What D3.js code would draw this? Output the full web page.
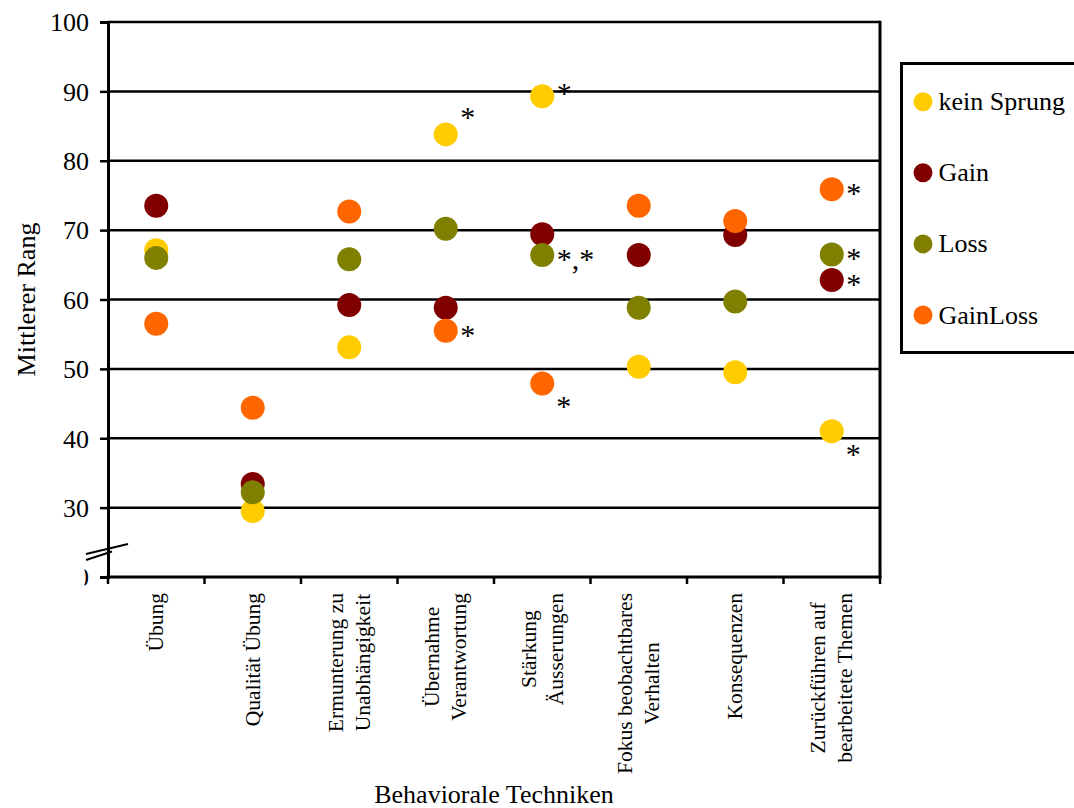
<!DOCTYPE html>
<html>
<head>
<meta charset="utf-8">
<script src="https://cdn.jsdelivr.net/npm/d3@7"></script>
<style>
  html, body { margin: 0; padding: 0; background: #fff; }
  svg { display: block; }
  text { font-family: "Liberation Serif", "Times New Roman", serif; fill: #000; }
</style>
</head>
<body>
<svg id="chart" width="1074" height="808"></svg>
<script>
// Behavioural techniques (line breaks marked with "|")
const categories = [
  "Übung",
  "Qualität Übung",
  "Ermunterung zu|Unabhängigkeit",
  "Übernahme|Verantwortung",
  "Stärkung|Äusserungen",
  "Fokus beobachtbares|Verhalten",
  "Konsequenzen",
  "Zurückführen auf|bearbeitete Themen"
];

const seriesNames = ["kein Sprung", "Gain", "Loss", "GainLoss"];
const seriesColors = ["#FFCC00", "#800000", "#808000", "#FF6600"];

// Mean ranks per group
const keinSprung = [67.1, 29.5, 53.1, 83.8, 89.3, 50.3, 49.5, 41.0];
const gain       = [73.5, 33.4, 59.2, 58.8, 69.4, 66.4, 69.3, 62.8];
const loss       = [66.0, 32.2, 65.8, 70.2, 66.4, 58.8, 59.7, 66.5];
const gainLoss   = [56.5, 44.4, 72.7, 55.5, 47.9, 73.5, 71.3, 75.9];

const yTicks = [20, 30, 40, 50, 60, 70, 80, 90, 100];
const gridTicks = [30, 40, 50, 60, 70, 80, 90, 100];

// Significance markers: [category index, series, marker text, placement]
const sigCategory = [3, 3, 4, 4, 4, 7, 7, 7, 7];
const sigSeries   = ["kein Sprung", "GainLoss", "kein Sprung", "Loss", "GainLoss", "GainLoss", "Loss", "Gain", "kein Sprung"];
const sigText     = ["*", "*", "*", "*,*", "*", "*", "*", "*", "*"];
const sigPlace    = ["upper", "right", "raised", "right", "lower", "right", "right", "right", "lower"];

const values = [keinSprung, gain, loss, gainLoss];

const svg = d3.select("#chart");
const plot = { left: 108, right: 880, top: 22, bottom: 577 };

const x = d3.scaleBand().domain(categories).range([plot.left, plot.right]).padding(0);
const y = d3.scaleLinear().domain([20, 100]).range([plot.bottom, plot.top]);
const cx = c => x(c) + x.bandwidth() / 2;

// Horizontal gridlines
svg.append("g").selectAll("line").data(gridTicks).join("line")
  .attr("x1", plot.left).attr("x2", plot.right)
  .attr("y1", d => y(d)).attr("y2", d => y(d))
  .attr("stroke", "#000").attr("stroke-width", 2.5);

// Right border of the plot area
svg.append("line")
  .attr("x1", plot.right).attr("x2", plot.right)
  .attr("y1", plot.top - 1.25).attr("y2", plot.bottom)
  .attr("stroke", "#000").attr("stroke-width", 3);

// Y axis
const yAxis = svg.append("g")
  .attr("transform", `translate(${plot.left},0)`)
  .call(d3.axisLeft(y).tickValues(yTicks).tickSize(8).tickPadding(11).tickFormat(d3.format("d")));
yAxis.select(".domain").attr("stroke", "#000").attr("stroke-width", 3);
yAxis.selectAll(".tick line").attr("stroke", "#000").attr("stroke-width", 2.5);
yAxis.selectAll(".tick text")
  .attr("font-size", 26)
  .attr("font-family", '"Liberation Serif", "Times New Roman", serif')
  .attr("dy", "0.34em");

// Axis break: white cover over the lowest label, then the two slanted strokes
svg.append("rect").attr("x", 30).attr("y", 556).attr("width", 54.5).attr("height", 40).attr("fill", "#fff");
svg.append("line").attr("x1", 86).attr("y1", 554).attr("x2", 128).attr("y2", 544)
  .attr("stroke", "#000").attr("stroke-width", 2);
svg.append("line").attr("x1", 86).attr("y1", 560).attr("x2", 112).attr("y2", 551.5)
  .attr("stroke", "#000").attr("stroke-width", 2);

// X axis line with ticks on the category boundaries
svg.append("line")
  .attr("x1", plot.left - 1.5).attr("x2", plot.right + 1.5)
  .attr("y1", plot.bottom).attr("y2", plot.bottom)
  .attr("stroke", "#000").attr("stroke-width", 3);
const bounds = categories.map(c => x(c)).concat([x.range()[1]]);
svg.append("g").selectAll("line").data(bounds).join("line")
  .attr("x1", d => d).attr("x2", d => d)
  .attr("y1", plot.bottom).attr("y2", plot.bottom + 7)
  .attr("stroke", "#000").attr("stroke-width", 2.5);

// Category labels, rotated, multi-line, centred on the longest line
const labelTop = 593;
const lineGap = 27;
categories.forEach(c => {
  const lines = c.split("|");
  const g = svg.append("g");
  const texts = lines.map((ln, i) => g.append("text")
    .attr("font-size", 21.5)
    .attr("text-anchor", "middle")
    .text(ln));
  const maxLen = d3.max(texts, t => t.node().getComputedTextLength());
  const yc = labelTop + maxLen / 2;
  texts.forEach((t, i) => {
    const xb = cx(c) + 7 + (i - (lines.length - 1) / 2) * lineGap;
    t.attr("transform", `translate(${xb},${yc}) rotate(-90)`);
  });
});

// Axis titles
svg.append("text")
  .attr("transform", `translate(35,${(plot.top + plot.bottom) / 2}) rotate(-90)`)
  .attr("text-anchor", "middle").attr("font-size", 26)
  .text("Mittlerer Rang");
svg.append("text")
  .attr("x", (plot.left + plot.right) / 2).attr("y", 803)
  .attr("text-anchor", "middle").attr("font-size", 26)
  .text("Behaviorale Techniken");

// Data points, series drawn in order so later groups sit on top
const r = 12;
seriesNames.forEach((s, si) => {
  svg.append("g").selectAll("circle")
    .data(categories.map((c, i) => ({ c, v: values[si][i] })))
    .join("circle")
    .attr("cx", d => cx(d.c))
    .attr("cy", d => y(d.v))
    .attr("r", r)
    .attr("fill", seriesColors[si]);
});

// Significance markers
const placeOffset = {
  right:  { dx: 14.5, dy: -1 },
  raised: { dx: 14.5, dy: -8 },
  upper:  { dx: 14.5, dy: -22 },
  lower:  { dx: 14, dy: 18 }
};
sigCategory.forEach((ci, k) => {
  const si = seriesNames.indexOf(sigSeries[k]);
  const c = categories[ci];
  const off = placeOffset[sigPlace[k]];
  svg.append("text")
    .attr("x", cx(c) + off.dx)
    .attr("y", y(values[si][ci]) + off.dy + 15)
    .attr("font-size", 30)
    .text(sigText[k]);
});

// Legend
const legend = svg.append("g");
legend.append("rect")
  .attr("x", 901.5).attr("y", 63.5).attr("width", 180).attr("height", 289)
  .attr("fill", "#fff").attr("stroke", "#000").attr("stroke-width", 3);
seriesNames.forEach((s, i) => {
  const ly = 101.7 + i * 71.1;
  legend.append("circle").attr("cx", 923).attr("cy", ly).attr("r", 9.5).attr("fill", seriesColors[i]);
  legend.append("text").attr("x", 938.5).attr("y", ly + 8.5).attr("font-size", 26).text(s);
});
</script>
</body>
</html>
